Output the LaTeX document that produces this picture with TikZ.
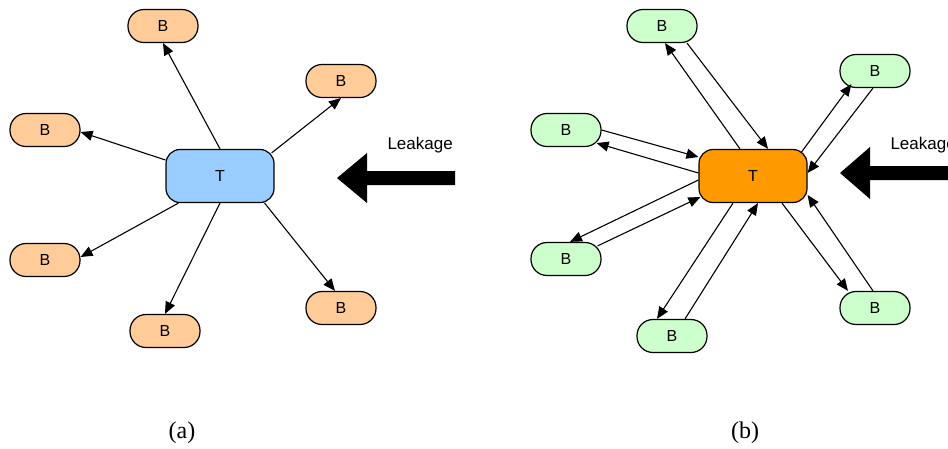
\documentclass[tikz,border=0pt]{standalone}
\usepackage{fontspec}
\setmainfont{Liberation Sans}
\newfontfamily\capfont{Liberation Serif}
\usepackage{xcolor}
\usetikzlibrary{arrows.meta}

\definecolor{bpeach}{HTML}{FFCC99}
\definecolor{tblue}{HTML}{99CCFF}
\definecolor{torange}{HTML}{FF9900}
\definecolor{bgreen}{HTML}{CCFFCC}

\begin{document}
\begin{tikzpicture}[x=1pt,y=-1pt,
  bnode/.style={draw,line width=1.2pt,rounded corners=16pt,minimum width=70pt,minimum height=33pt,inner sep=0pt,font=\fontsize{16}{19}\selectfont},
  tnode/.style={draw,line width=1.2pt,rounded corners=14pt,minimum width=108pt,minimum height=53pt,inner sep=0pt,font=\fontsize{16}{19}\selectfont},
  link/.style={-{Triangle[length=12pt,width=10pt]},line width=1.1pt}]
\clip (0,0) rectangle (948,448);
\useasboundingbox (0,0) rectangle (948,448);

% (a)
\node[tnode,fill=tblue]  (Ta) at (220,176) {T};
  \node[bnode,fill=bpeach] (Aa) at (163,26)  {B};
  \node[bnode,fill=bpeach] (Ba) at (341,81)  {B};
  \node[bnode,fill=bpeach] (Ca) at (45,130)  {B};
  \node[bnode,fill=bpeach] (Da) at (45,260)  {B};
  \node[bnode,fill=bpeach] (Ea) at (165,331) {B};
  \node[bnode,fill=bpeach] (Fa) at (341,308) {B};

  \path[link]
        (Ta.north) edge (Aa.south)
        ([xshift=-3pt,yshift=-4pt]Ta.north east) edge (Ba.south)
        ([yshift=16pt]Ta.west) edge ([yshift=-2pt]Ca.east)
        ([xshift=13pt]Ta.south west) edge ([yshift=3pt]Da.east)
        (Ta.south) edge (Ea.north)
        ([xshift=-10pt]Ta.south east) edge ([xshift=-6pt]Fa.north);

\node[anchor=base west,font=\fontsize{17}{20}\selectfont] (La) at (384,149) {Leakage};
\fill (337,178) -- (367,153) -- (367,171) -- (455,171) -- (455,185) -- (367,185) -- (367,203) -- cycle;

% (b)
\node[tnode,fill=torange] (Tb) at (753,176) {T};
  \node[bnode,fill=bgreen] (Ab) at (662,26)  {B};
  \node[bnode,fill=bgreen] (Bb) at (875,71)  {B};
  \node[bnode,fill=bgreen] (Cb) at (566,130) {B};
  \node[bnode,fill=bgreen] (Db) at (566,259) {B};
  \node[bnode,fill=bgreen] (Eb) at (672,336) {B};
  \node[bnode,fill=bgreen] (Fb) at (875,308) {B};

  % T to B
  \path[link]
        ([xshift=-13pt]Tb.north) edge ([xshift=3pt]Ab.south)
        ([xshift=-6pt,yshift=-3pt]Tb.north east) edge ([xshift=12pt,yshift=4pt]Bb.south west)
        ([yshift=3pt]Tb.west) edge ([xshift=-5pt,yshift=4pt]Cb.south east)
        ([yshift=-4pt]Tb.west) edge ([xshift=4pt]Db.north)
        ([xshift=-20pt]Tb.south) edge ([xshift=-15pt]Eb.north)
        ([xshift=29pt]Tb.south) edge ([xshift=-27pt]Fb.north);

  % B to T
  \path[link]
        ([xshift=25pt]Ab.south) edge ([xshift=15pt]Tb.north)
        ([xshift=-2pt]Bb.south) edge ([yshift=3pt]Tb.east)
        (Cb.east) edge ([yshift=19pt]Tb.west)
        ([xshift=-4pt,yshift=-4pt]Db.north east) edge ([xshift=2pt,yshift=-21pt]Tb.west)
        ([xshift=13pt]Eb.north) edge ([xshift=5pt]Tb.south)
        ([xshift=-2pt]Fb.north) edge ([yshift=-19pt]Tb.east);

\node[anchor=base west,font=\fontsize{17}{20}\selectfont] (Lb) at (887,149) {Leakage};
\fill (840,173) -- (870,147) -- (870,166) -- (960,166) -- (960,180) -- (870,180) -- (870,199) -- cycle;

\node[font=\capfont\fontsize{24}{28}\selectfont] (capa) at (182,433) {(a)};
\node[font=\capfont\fontsize{24}{28}\selectfont] (capb) at (745,433) {(b)};
\end{tikzpicture}
\end{document}
